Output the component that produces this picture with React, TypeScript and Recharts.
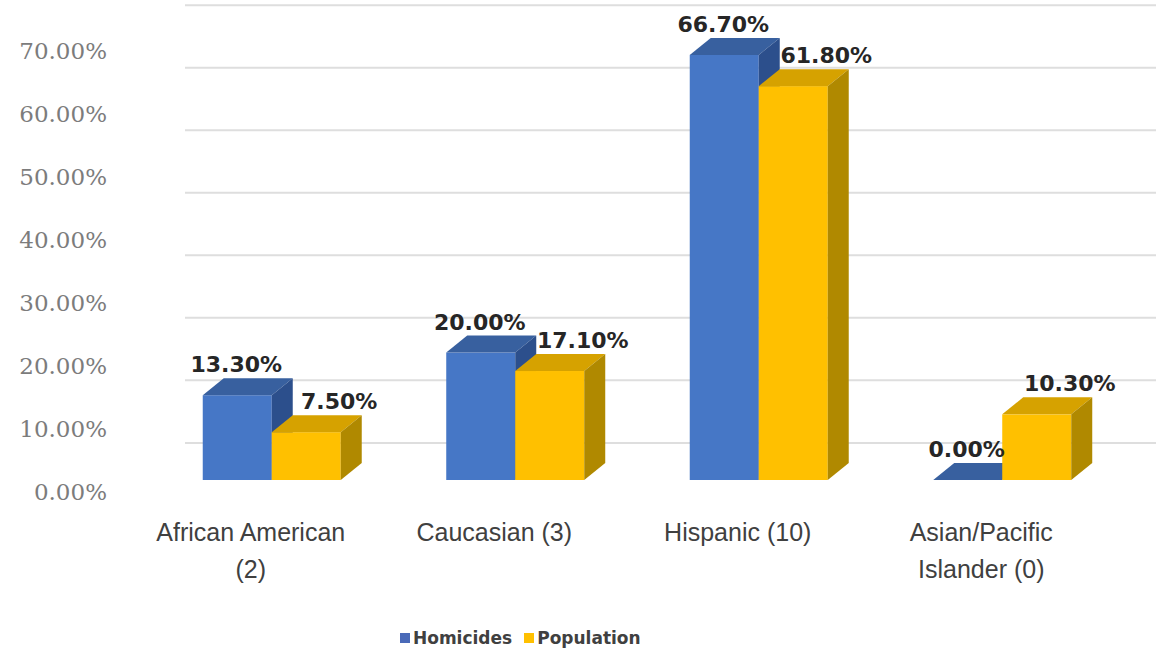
import React from 'react'
import {
    BarChart,
    Bar,
    XAxis,
    YAxis,
    CartesianGrid,
    Legend,
    LabelList,
} from 'recharts'

const CATEGORIES = [
    'African American\n(2)',
    'Caucasian (3)',
    'Hispanic (10)',
    'Asian/Pacific\nIslander (0)',
]
const HOMICIDES = [13.3, 20.0, 66.7, 0.0]
const POPULATION = [7.5, 17.1, 61.8, 10.3]
const Y_TICKS = [0, 10, 20, 30, 40, 50, 60, 70]

const DATA = CATEGORIES.map((name, i) => ({
    name,
    homicides: HOMICIDES[i],
    population: POPULATION[i],
}))

// 3d box depth (right / up)
const DEPTH_X = 21
const DEPTH_Y = 17

const BLUE = { front: '#4677c6', top: '#38609f', side: '#2c4f8c' }
const GOLD = { front: '#ffc000', top: '#d6a200', side: '#b08900' }

// back wall sits slightly higher and smaller than the bar fronts
const wallY = (y: number) => y * 0.981 - 28

const LABEL_FONT = '"DejaVu Sans", Verdana, sans-serif'

function makeBox(c: { front: string; top: string; side: string }) {
    return (props: any) => {
        const { x, y, width, height } = props
        const h = Math.max(0, height || 0)
        const r = x + width
        const b = y + h
        return (
            <g>
                <rect x={x} y={y} width={width} height={h} fill={c.front} />
                <polygon
                    points={`${x},${y} ${x + DEPTH_X},${y - DEPTH_Y} ${r + DEPTH_X},${y - DEPTH_Y} ${r},${y}`}
                    fill={c.top}
                />
                <polygon
                    points={`${r},${y} ${r + DEPTH_X},${y - DEPTH_Y} ${r + DEPTH_X},${b - DEPTH_Y} ${r},${b}`}
                    fill={c.side}
                />
            </g>
        )
    }
}

function makeValueLabel(shift: number) {
    return (props: any) => {
        const { x, y, width, value } = props
        return (
            <text
                x={x + width / 2 + shift}
                y={y - 23}
                textAnchor="middle"
                fontFamily={LABEL_FONT}
                fontWeight="bold"
                fontSize={22}
                fill="#262626"
            >
                {Number(value).toFixed(2)}%
            </text>
        )
    }
}

function YTick(props: any) {
    const { y, payload } = props
    return (
        <text
            x={107}
            y={y * 0.99 + 25}
            textAnchor="end"
            fontFamily='"DejaVu Serif", serif'
            fontSize={23}
            fill="#7c7c7c"
        >
            {Number(payload.value).toFixed(2)}%
        </text>
    )
}

function XTick(props: any) {
    const { x, payload } = props
    const lines = String(payload.value).split('\n')
    return (
        <g>
            {lines.map((line, i) => (
                <text
                    key={i}
                    x={x - 21}
                    y={541 + i * 37}
                    textAnchor="middle"
                    fontFamily='"Liberation Sans", Arial, sans-serif'
                    fontSize={25}
                    fill="#404040"
                >
                    {line}
                </text>
            ))}
        </g>
    )
}

function GridLine(props: any) {
    const { y1, index } = props
    const y = wallY(y1)
    return <line key={`grid-${index}`} x1={185} x2={1156} y1={y} y2={y} stroke="#dedede" strokeWidth={2} />
}

function LegendBox() {
    const items = [
        { label: 'Homicides', color: '#4a6ab8' },
        { label: 'Population', color: '#ffc000' },
    ]
    return (
        <div style={{ display: 'flex', alignItems: 'center', paddingLeft: 400, height: 30 }}>
            {items.map((it) => (
                <div key={it.label} style={{ display: 'flex', alignItems: 'center', marginRight: 12 }}>
                    <span style={{ width: 10, height: 10, background: it.color, marginRight: 3 }} />
                    <span
                        style={{
                            fontFamily: LABEL_FONT,
                            fontWeight: 'bold',
                            fontSize: 17,
                            color: '#404040',
                        }}
                    >
                        {it.label}
                    </span>
                </div>
            ))}
        </div>
    )
}

export default function App() {
    return (
        <div style={{ position: 'absolute', left: 0, top: 0, width: 1156, height: 653, background: '#fff' }}>
            <BarChart
                width={1156}
                height={653}
                data={DATA}
                margin={{ top: 2, right: 32, bottom: 0, left: 0 }}
                barCategoryGap="21.66%"
                barGap={0}
            >
                <CartesianGrid vertical={false} horizontal={GridLine} />
                <XAxis
                    dataKey="name"
                    height={143}
                    axisLine={false}
                    tickLine={false}
                    interval={0}
                    tick={<XTick />}
                />
                <YAxis
                    width={150}
                    domain={[0, 75]}
                    ticks={Y_TICKS}
                    axisLine={false}
                    tickLine={false}
                    tick={<YTick />}
                />
                <Legend verticalAlign="bottom" height={30} content={<LegendBox />} />
                <Bar dataKey="homicides" name="Homicides" fill={BLUE.front} shape={makeBox(BLUE)} isAnimationActive={false}>
                    <LabelList dataKey="homicides" content={makeValueLabel(-1)} />
                </Bar>
                <Bar dataKey="population" name="Population" fill={GOLD.front} shape={makeBox(GOLD)} isAnimationActive={false}>
                    <LabelList dataKey="population" content={makeValueLabel(33)} />
                </Bar>
            </BarChart>
        </div>
    )
}
